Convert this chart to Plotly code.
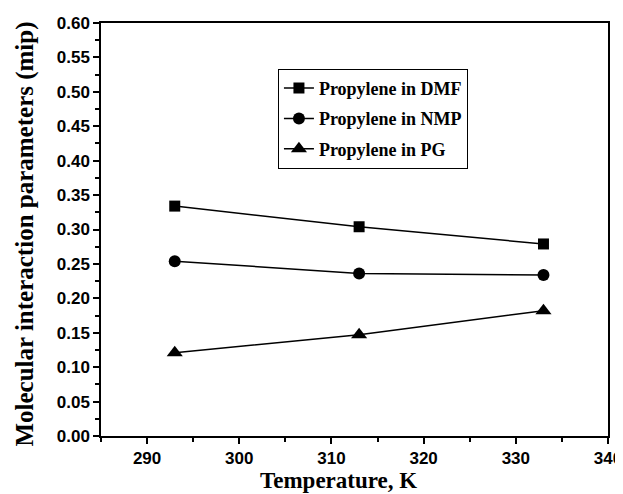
import plotly.graph_objects as go

temperature = [293, 313, 333]
dmf = [0.334, 0.304, 0.279]
nmp = [0.254, 0.236, 0.234]
pg = [0.121, 0.147, 0.182]

x_ticks = [290, 300, 310, 320, 330, 340]
y_ticks = [i * 0.05 for i in range(13)]

series = [
    ("Propylene in DMF", dmf, "square", 11),
    ("Propylene in NMP", nmp, "circle", 12),
    ("Propylene in PG", pg, "triangle-up", 14),
]

fig = go.Figure()
for i, (name, vals, sym, sz) in enumerate(series):
    fig.add_trace(go.Scatter(
        x=temperature, y=vals, name=f"<b>{name}</b>", mode="lines+markers",
        legendgroup=f"g{i}",
        line=dict(color="black", width=1.5),
        marker=dict(symbol=sym, size=sz, color="black"),
    ))

fig.update_layout(
    width=615, height=486,
    margin=dict(l=93, r=15, t=15, b=58),
    paper_bgcolor="white", plot_bgcolor="white",
    showlegend=True,
    legend=dict(
        x=0.349, y=0.889, xanchor="left", yanchor="top",
        bordercolor="black", borderwidth=1, bgcolor="white",
        font=dict(family="Liberation Serif", size=18, color="black"),
        itemwidth=30, tracegroupgap=4,
    ),
    annotations=[
        dict(text="<b>Temperature, K</b>", xref="paper", yref="paper", x=0.4675, y=-0.108,
             xanchor="center", yanchor="middle", showarrow=False,
             font=dict(family="Liberation Serif", size=23, color="black")),
        dict(text="<b>Molecular interaction parameters (mip)</b>", xref="paper", yref="paper",
             x=-0.150, y=0.49, xanchor="center", yanchor="middle", textangle=-90, showarrow=False,
             font=dict(family="Liberation Serif", size=25, color="black")),
    ],
)
fig.update_xaxes(
    range=[285, 340], tickmode="array", tickvals=x_ticks,
    ticktext=[f"<b>{v}</b>" for v in x_ticks],
    ticks="outside", ticklen=6, tickwidth=1.5, tickcolor="black",
    minor=dict(tickvals=[285, 295, 305, 315, 325, 335], ticks="outside", ticklen=4, tickcolor="black", tickwidth=1.5),
    showline=True, linecolor="black", linewidth=1.5, mirror=True,
    showgrid=False, zeroline=False, automargin=False, ticklabeloverflow="allow",
    tickfont=dict(family="Liberation Sans", size=17, color="black"),
)
fig.update_yaxes(
    range=[0, 0.6], tickmode="array", tickvals=y_ticks,
    ticktext=[f"<b>{v:.2f}</b>" for v in y_ticks],
    ticks="outside", ticklen=6, tickwidth=1.5, tickcolor="black",
    minor=dict(tickvals=[0.025 + i * 0.05 for i in range(12)], ticks="outside", ticklen=4, tickcolor="black", tickwidth=1.5),
    showline=True, linecolor="black", linewidth=1.5, mirror=True,
    showgrid=False, zeroline=False, automargin=False,
    tickfont=dict(family="Liberation Sans", size=17, color="black"),
)
fig.write_html("out.html")
